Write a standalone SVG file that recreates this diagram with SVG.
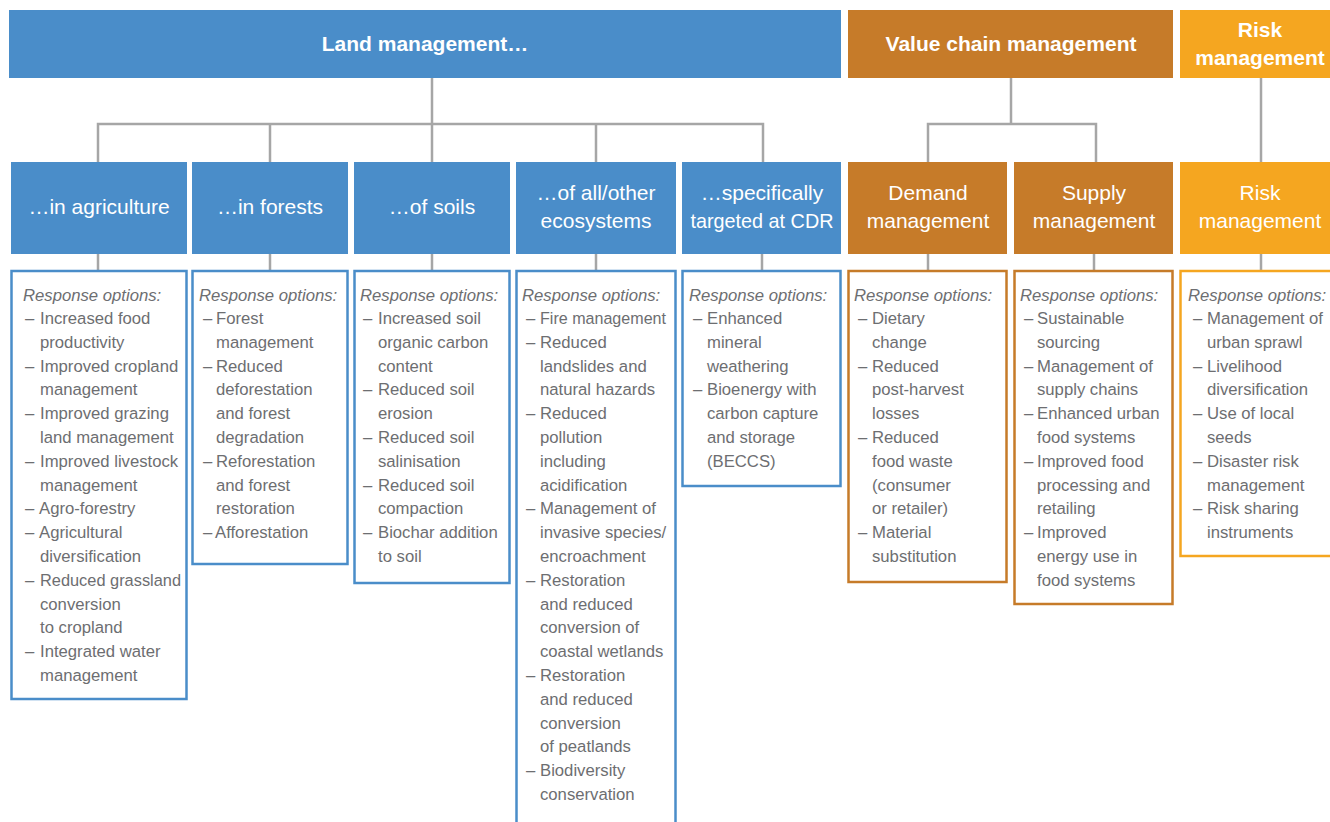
<svg xmlns="http://www.w3.org/2000/svg" width="1330" height="822" viewBox="0 0 1330 822">
<style>
.land{fill:#4a8dc9}.val{fill:#c67b29}.risk{fill:#f5a620}
.hb{font-family:"Liberation Sans",Arial,sans-serif;font-weight:bold;font-size:21px;fill:#fff;text-anchor:middle}
.hs{font-family:"Liberation Sans",Arial,sans-serif;font-size:21px;fill:#fff;text-anchor:middle}
.ob{fill:#fff;stroke-width:2.5}
.ob.l{stroke:#4a8dc9}.ob.v{stroke:#c67b29}.ob.r{stroke:#f5a620}
.t{font-family:"Liberation Sans",Arial,sans-serif;font-size:16.7px;fill:#6d6e71}
.i{font-style:italic}
.con{fill:none;stroke:#a6a6a6;stroke-width:2.5}
</style>
<g id="connectors" class="con">
<path d="M432 78V162M98 162V124H763V162M270 124V162M596 124V162"/>
<path d="M1011 78V124M928 162V124H1096V162"/>
<path d="M1261 78V162"/>
<path d="M98 254V271M270 254V271M432 254V271M596 254V271M762 254V271M928 254V271M1094 254V271M1261 254V271"/>
</g>
<g id="land-management"><rect class="land" x="9" y="10" width="832" height="68"/><text class="hb" x="425" y="51">Land management…</text></g>
<g id="value-chain-management"><rect class="val" x="848" y="10" width="325" height="68"/><text class="hb" x="1011" y="51">Value chain management</text></g>
<g id="risk-management-top"><rect class="risk" x="1180" y="10" width="152" height="68"/><text class="hb" x="1260" y="37">Risk</text><text class="hb" x="1260" y="65">management</text></g>

<g id="in-agriculture"><rect class="land" x="11" y="162" width="176" height="92"/><text class="hs" x="99" y="214">…in agriculture</text></g>
<g id="in-forests"><rect class="land" x="192" y="162" width="156" height="92"/><text class="hs" x="270" y="214">…in forests</text></g>
<g id="of-soils"><rect class="land" x="354" y="162" width="156" height="92"/><text class="hs" x="432" y="214">…of soils</text></g>
<g id="of-ecosystems"><rect class="land" x="516" y="162" width="160" height="92"/><text class="hs" x="596" y="200">…of all/other</text><text class="hs" x="596" y="228">ecosystems</text></g>
<g id="cdr"><rect class="land" x="682" y="162" width="159" height="92"/><text class="hs" x="762" y="200">…specifically</text><text class="hs" x="762" y="228" textLength="143" lengthAdjust="spacingAndGlyphs">targeted at CDR</text></g>
<g id="demand-management"><rect class="val" x="848" y="162" width="159" height="92"/><text class="hs" x="928" y="200">Demand</text><text class="hs" x="928" y="228">management</text></g>
<g id="supply-management"><rect class="val" x="1014" y="162" width="159" height="92"/><text class="hs" x="1094" y="200">Supply</text><text class="hs" x="1094" y="228">management</text></g>
<g id="risk-management"><rect class="risk" x="1180" y="162" width="152" height="92"/><text class="hs" x="1260" y="200">Risk</text><text class="hs" x="1260" y="228">management</text></g>

<g id="opt-agriculture"><rect class="ob l" x="11.5" y="271" width="175" height="428"/>
<text class="t"><tspan class="i" x="23" y="301">Response options:</tspan>
<tspan x="25" y="324">–</tspan><tspan x="40" y="324">Increased food</tspan>
<tspan x="40" y="347.8">productivity</tspan>
<tspan x="25" y="371.6">–</tspan><tspan x="40" y="371.6">Improved cropland</tspan>
<tspan x="40" y="395.4">management</tspan>
<tspan x="25" y="419.2">–</tspan><tspan x="40" y="419.2">Improved grazing</tspan>
<tspan x="40" y="443">land management</tspan>
<tspan x="25" y="466.8">–</tspan><tspan x="40" y="466.8">Improved livestock</tspan>
<tspan x="40" y="490.6">management</tspan>
<tspan x="25" y="514.4">–</tspan><tspan x="39" y="514.4">Agro-forestry</tspan>
<tspan x="25" y="538.2">–</tspan><tspan x="39" y="538.2">Agricultural</tspan>
<tspan x="40" y="562">diversification</tspan>
<tspan x="25" y="585.8">–</tspan></text>
<text class="t" x="40" y="585.8" textLength="141" lengthAdjust="spacingAndGlyphs">Reduced grassland</text>
<text class="t"><tspan x="40" y="609.6">conversion</tspan>
<tspan x="40" y="633.4">to cropland</tspan>
<tspan x="25" y="657.2">–</tspan><tspan x="40" y="657.2">Integrated water</tspan>
<tspan x="40" y="681">management</tspan></text></g>

<g id="opt-forests"><rect class="ob l" x="192.5" y="271" width="155" height="293"/>
<text class="t"><tspan class="i" x="199" y="301">Response options:</tspan>
<tspan x="203" y="324">–</tspan><tspan x="216" y="324">Forest</tspan>
<tspan x="216" y="347.8">management</tspan>
<tspan x="203" y="371.6">–</tspan><tspan x="216" y="371.6">Reduced</tspan>
<tspan x="216" y="395.4">deforestation</tspan>
<tspan x="216" y="419.2">and forest</tspan>
<tspan x="216" y="443">degradation</tspan>
<tspan x="203" y="466.8">–</tspan><tspan x="216" y="466.8">Reforestation</tspan>
<tspan x="216" y="490.6">and forest</tspan>
<tspan x="216" y="514.4">restoration</tspan>
<tspan x="203" y="538.2">–</tspan><tspan x="215" y="538.2">Afforestation</tspan></text></g>

<g id="opt-soils"><rect class="ob l" x="354.5" y="271" width="155" height="312"/>
<text class="t"><tspan class="i" x="360" y="301">Response options:</tspan>
<tspan x="363" y="324">–</tspan><tspan x="378" y="324">Increased soil</tspan>
<tspan x="378" y="347.8">organic carbon</tspan>
<tspan x="378" y="371.6">content</tspan>
<tspan x="363" y="395.4">–</tspan><tspan x="378" y="395.4">Reduced soil</tspan>
<tspan x="378" y="419.2">erosion</tspan>
<tspan x="363" y="443">–</tspan><tspan x="378" y="443">Reduced soil</tspan>
<tspan x="378" y="466.8">salinisation</tspan>
<tspan x="363" y="490.6">–</tspan><tspan x="378" y="490.6">Reduced soil</tspan>
<tspan x="378" y="514.4">compaction</tspan>
<tspan x="363" y="538.2">–</tspan><tspan x="378" y="538.2">Biochar addition</tspan>
<tspan x="378" y="562">to soil</tspan></text></g>

<g id="opt-ecosystems"><rect class="ob l" x="516.5" y="271" width="159" height="570"/>
<text class="t"><tspan class="i" x="522" y="301">Response options:</tspan>
<tspan x="526" y="324">–</tspan></text>
<text class="t" x="540" y="324" textLength="126" lengthAdjust="spacingAndGlyphs">Fire management</text>
<text class="t"><tspan x="526" y="347.8">–</tspan><tspan x="540" y="347.8">Reduced</tspan>
<tspan x="540" y="371.6">landslides and</tspan>
<tspan x="540" y="395.4">natural hazards</tspan>
<tspan x="526" y="419.2">–</tspan><tspan x="540" y="419.2">Reduced</tspan>
<tspan x="540" y="443">pollution</tspan>
<tspan x="540" y="466.8">including</tspan>
<tspan x="540" y="490.6">acidification</tspan>
<tspan x="526" y="514.4">–</tspan><tspan x="540" y="514.4">Management of</tspan>
<tspan x="540" y="538.2">invasive species/</tspan>
<tspan x="540" y="562">encroachment</tspan>
<tspan x="526" y="585.8">–</tspan><tspan x="540" y="585.8">Restoration</tspan>
<tspan x="540" y="609.6">and reduced</tspan>
<tspan x="540" y="633.4">conversion of</tspan>
<tspan x="540" y="657.2">coastal wetlands</tspan>
<tspan x="526" y="681">–</tspan><tspan x="540" y="681">Restoration</tspan>
<tspan x="540" y="704.8">and reduced</tspan>
<tspan x="540" y="728.6">conversion</tspan>
<tspan x="540" y="752.4">of peatlands</tspan>
<tspan x="526" y="776.2">–</tspan><tspan x="540" y="776.2">Biodiversity</tspan>
<tspan x="540" y="800">conservation</tspan></text></g>

<g id="opt-cdr"><rect class="ob l" x="682.5" y="271" width="158" height="215"/>
<text class="t"><tspan class="i" x="689" y="301">Response options:</tspan>
<tspan x="693" y="324">–</tspan><tspan x="707" y="324">Enhanced</tspan>
<tspan x="707" y="347.8">mineral</tspan>
<tspan x="707" y="371.6">weathering</tspan>
<tspan x="693" y="395.4">–</tspan><tspan x="707" y="395.4">Bioenergy with</tspan>
<tspan x="707" y="419.2">carbon capture</tspan>
<tspan x="707" y="443">and storage</tspan>
<tspan x="707" y="466.8">(BECCS)</tspan></text></g>

<g id="opt-demand"><rect class="ob v" x="848.5" y="271" width="158" height="311"/>
<text class="t"><tspan class="i" x="854" y="301">Response options:</tspan>
<tspan x="858" y="324">–</tspan><tspan x="872" y="324">Dietary</tspan>
<tspan x="872" y="347.8">change</tspan>
<tspan x="858" y="371.6">–</tspan><tspan x="872" y="371.6">Reduced</tspan>
<tspan x="872" y="395.4">post-harvest</tspan>
<tspan x="872" y="419.2">losses</tspan>
<tspan x="858" y="443">–</tspan><tspan x="872" y="443">Reduced</tspan>
<tspan x="872" y="466.8">food waste</tspan>
<tspan x="872" y="490.6">(consumer</tspan>
<tspan x="872" y="514.4">or retailer)</tspan>
<tspan x="858" y="538.2">–</tspan><tspan x="872" y="538.2">Material</tspan>
<tspan x="872" y="562">substitution</tspan></text></g>

<g id="opt-supply"><rect class="ob v" x="1014.5" y="271" width="158" height="333"/>
<text class="t"><tspan class="i" x="1020" y="301">Response options:</tspan>
<tspan x="1024" y="324">–</tspan><tspan x="1037" y="324">Sustainable</tspan>
<tspan x="1037" y="347.8">sourcing</tspan>
<tspan x="1024" y="371.6">–</tspan><tspan x="1037" y="371.6">Management of</tspan>
<tspan x="1037" y="395.4">supply chains</tspan>
<tspan x="1024" y="419.2">–</tspan><tspan x="1037" y="419.2">Enhanced urban</tspan>
<tspan x="1037" y="443">food systems</tspan>
<tspan x="1024" y="466.8">–</tspan><tspan x="1037" y="466.8">Improved food</tspan>
<tspan x="1037" y="490.6">processing and</tspan>
<tspan x="1037" y="514.4">retailing</tspan>
<tspan x="1024" y="538.2">–</tspan><tspan x="1037" y="538.2">Improved</tspan>
<tspan x="1037" y="562">energy use in</tspan>
<tspan x="1037" y="585.8">food systems</tspan></text></g>

<g id="opt-risk"><rect class="ob r" x="1180.5" y="271" width="160" height="285"/>
<text class="t"><tspan class="i" x="1188" y="301">Response options:</tspan>
<tspan x="1193" y="324">–</tspan><tspan x="1207" y="324">Management of</tspan>
<tspan x="1207" y="347.8">urban sprawl</tspan>
<tspan x="1193" y="371.6">–</tspan><tspan x="1207" y="371.6">Livelihood</tspan>
<tspan x="1207" y="395.4">diversification</tspan>
<tspan x="1193" y="419.2">–</tspan><tspan x="1207" y="419.2">Use of local</tspan>
<tspan x="1207" y="443">seeds</tspan>
<tspan x="1193" y="466.8">–</tspan><tspan x="1207" y="466.8">Disaster risk</tspan>
<tspan x="1207" y="490.6">management</tspan>
<tspan x="1193" y="514.4">–</tspan><tspan x="1207" y="514.4">Risk sharing</tspan>
<tspan x="1207" y="538.2">instruments</tspan></text></g>
</svg>
